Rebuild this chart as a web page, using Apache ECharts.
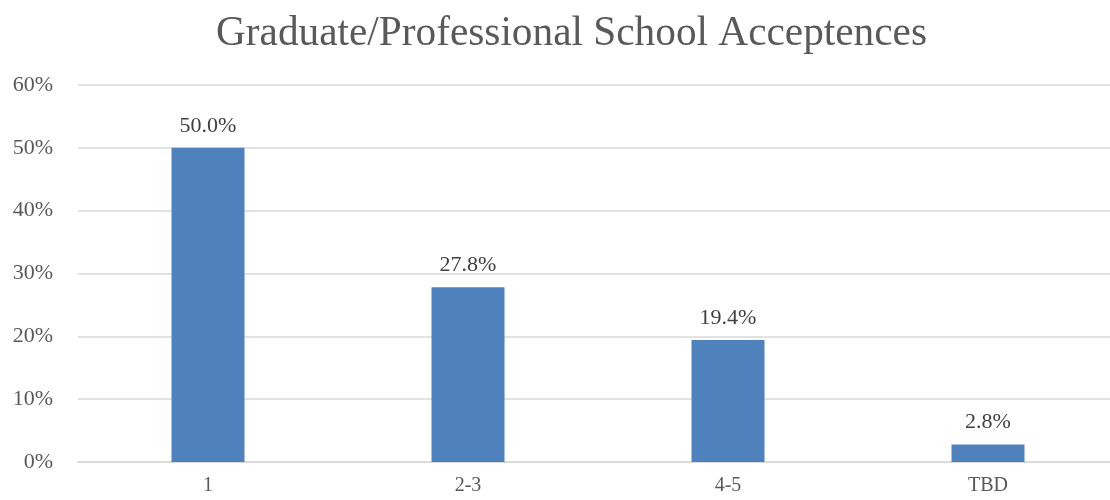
<!DOCTYPE html>
<html>
<head>
<meta charset="utf-8">
<script src="https://cdn.jsdelivr.net/npm/echarts@6/dist/echarts.min.js"></script>
<style>html,body{margin:0;padding:0;background:#fff;overflow:hidden;}#c{width:1118px;height:500px;}</style>
</head>
<body>
<div id="c"></div>
<script>
const titleText = 'Graduate/Professional School Acceptences';
const categories = ['1', '2-3', '4-5', 'TBD'];
const values = [50.0, 27.8, 19.4, 2.8];
const yTicks = [0, 10, 20, 30, 40, 50, 60];

const FONT = '"Palatino Linotype", "Book Antiqua", Palatino, "Liberation Serif", serif';
const chart = echarts.init(document.getElementById('c'), null, {renderer: 'canvas'});
chart.setOption({
  animation: false,
  backgroundColor: '#ffffff',
  title: {
    text: titleText,
    left: 211,
    top: 9,
    textStyle: {fontFamily: FONT, fontSize: 41.3, fontWeight: 'normal', color: '#595959'}
  },
  grid: {left: 78, right: 0, top: 85, bottom: 38, containLabel: false},
  xAxis: {
    type: 'category',
    data: categories,
    axisLine: {show: true, lineStyle: {color: '#d9d9d9', width: 1.5}},
    axisTick: {show: false},
    axisLabel: {fontFamily: FONT, fontSize: 20, color: '#595959', margin: 14}
  },
  yAxis: {
    type: 'value',
    min: yTicks[0],
    max: yTicks[yTicks.length - 1],
    interval: 10,
    axisLine: {show: false},
    axisTick: {show: false},
    splitLine: {lineStyle: {color: '#d9d9d9', width: 1.5}},
    axisLabel: {fontFamily: FONT, fontSize: 22, color: '#595959', margin: 25, formatter: v => v + '%'}
  },
  series: [{
    type: 'bar',
    data: values,
    barWidth: 73,
    itemStyle: {color: '#4f81bd'},
    label: {
      show: true,
      position: 'top',
      distance: 11,
      fontFamily: FONT,
      fontSize: 22,
      color: '#404040',
      formatter: p => p.value.toFixed(1) + '%'
    }
  }]
});
</script>
</body>
</html>
